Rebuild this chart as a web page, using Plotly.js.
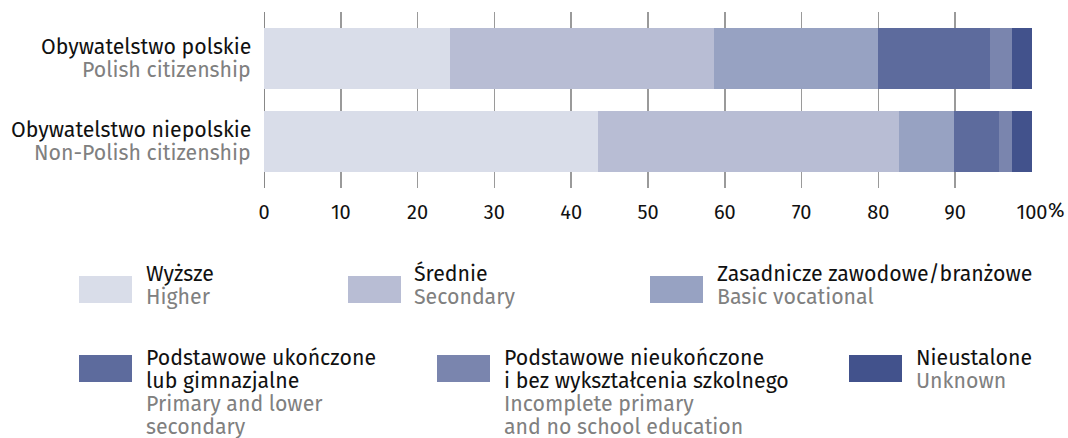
<!DOCTYPE html>
<html>
<head>
<meta charset="utf-8">
<script src="https://cdn.plot.ly/plotly-3.0.1.min.js"></script>
<style>html,body{margin:0;padding:0;background:#fff;}#chart{width:1068px;height:438px;}</style>
</head>
<body>
<div id="chart"></div>
<script>
// ---- data ----
const categories = ["Obywatelstwo niepolskie", "Obywatelstwo polskie"];
const categoriesEn = ["Non-Polish citizenship", "Polish citizenship"];
const seriesPl = [["Wyższe"], ["Średnie"], ["Zasadnicze zawodowe/branżowe"],
  ["Podstawowe ukończone", "lub gimnazjalne"],
  ["Podstawowe nieukończone", "i bez wykształcenia szkolnego"], ["Nieustalone"]];
const seriesEn = [["Higher"], ["Secondary"], ["Basic vocational"],
  ["Primary and lower", "secondary"],
  ["Incomplete primary", "and no school education"], ["Unknown"]];
const higher     = [43.5, 24.2];
const secondary  = [39.2, 34.4];
const vocational = [7.1, 21.3];
const primary    = [5.9, 14.6];
const incomplete = [1.7, 2.9];
const unknown    = [2.6, 2.6];
const tickVals = [0, 10, 20, 30, 40, 50, 60, 70, 80, 90, 100];
const tickText = ["0", "10", "20", "30", "40", "50", "60", "70", "80", "90", "100"];

const values = [higher, secondary, vocational, primary, incomplete, unknown];
const colors = ["#d9dde9", "#b8bdd4", "#97a2c2", "#5d6b9d", "#7a85ae", "#42528c"];
const FONT = "'Fira Sans', 'Noto Sans', sans-serif";
const GRAY = "#808080";
const BLACK = "#111111";
const FS = 21.3;     // label font size
const LH = 23.3;     // line spacing (px)

const traces = values.map((v, i) => ({
  type: "bar", orientation: "h",
  x: v, y: categories, name: seriesPl[i].join(" "),
  marker: {color: colors[i], line: {width: 0}},
  width: 0.735, showlegend: false, hoverinfo: "x+name"
}));

// layout geometry (pixels -> paper)
const W = 1068, H = 438, L = 264, R = 36, T = 12, B = 250;
const pw = W - L - R, ph = H - T - B;
const px = p => (p - L) / pw;
const py = p => 1 - (p - T) / ph;

const legendPos = [
  {sx: 79, sy: 276, tx: 147, ty: 274},
  {sx: 348, sy: 276, tx: 415, ty: 274},
  {sx: 650, sy: 276, tx: 718, ty: 274},
  {sx: 79, sy: 355, tx: 147, ty: 357.5},
  {sx: 437, sy: 355, tx: 505, ty: 357.5},
  {sx: 849, sy: 355, tx: 917, ty: 357.5}
];

const shapes = legendPos.map((p, i) => ({
  type: "rect", xref: "paper", yref: "paper",
  x0: px(p.sx), x1: px(p.sx + 53), y0: py(p.sy), y1: py(p.sy + 27),
  fillcolor: colors[i], line: {width: 0}
}));
shapes.push({
  type: "line", xref: "x", yref: "paper", x0: 0, x1: 0, y0: 0, y1: 1,
  line: {color: "#888", width: 2}, layer: "below"
});

const annotations = [];
legendPos.forEach((p, i) => {
  const lines = seriesPl[i].map(t => [t, BLACK]).concat(seriesEn[i].map(t => [t, GRAY]));
  lines.forEach((ln, k) => {
    annotations.push({
      xref: "paper", yref: "paper", x: px(p.tx - 3), y: py(p.ty + k * LH),
      xanchor: "left", yanchor: "middle", align: "left", showarrow: false,
      text: ln[0], font: {family: FONT, size: FS, color: ln[1]}
    });
  });
});
// category labels (two lines each, right-aligned next to the axis)
categories.forEach((c, i) => {
  [[c, BLACK, LH / 2], [categoriesEn[i], GRAY, -LH / 2]].forEach(ln => {
    annotations.push({
      xref: "paper", yref: "y", x: px(253), y: c, yshift: ln[2],
      xanchor: "right", yanchor: "middle", align: "right", showarrow: false,
      text: ln[0], font: {family: FONT, size: FS, color: ln[1]}
    });
  });
});
annotations.push({
  xref: "x", yref: "paper", x: 100, y: py(210), xanchor: "left", yanchor: "middle",
  xshift: 14, showarrow: false, text: "%", font: {family: FONT, size: 20, color: BLACK}
});

const layout = {
  width: W, height: H,
  margin: {l: L, r: R, t: T, b: B, pad: 0},
  paper_bgcolor: "#fff", plot_bgcolor: "#fff",
  barmode: "stack",
  font: {family: FONT, color: BLACK},
  xaxis: {
    range: [0, 100], tickvals: tickVals, ticktext: tickText,
    showgrid: true, gridcolor: "#9a9a9a", gridwidth: 1.5,
    zeroline: false, showline: false, ticks: "",
    ticklabelstandoff: 10,
    tickfont: {family: FONT, size: 20, color: BLACK}, fixedrange: true
  },
  yaxis: {
    type: "category", range: [-0.56, 1.56],
    categoryorder: "array", categoryarray: categories,
    showticklabels: false,
    showgrid: false, zeroline: false, showline: false, ticks: "",
    fixedrange: true
  },
  shapes: shapes,
  annotations: annotations
};

Plotly.newPlot("chart", traces, layout, {displayModeBar: false, staticPlot: true});
</script>
</body>
</html>
